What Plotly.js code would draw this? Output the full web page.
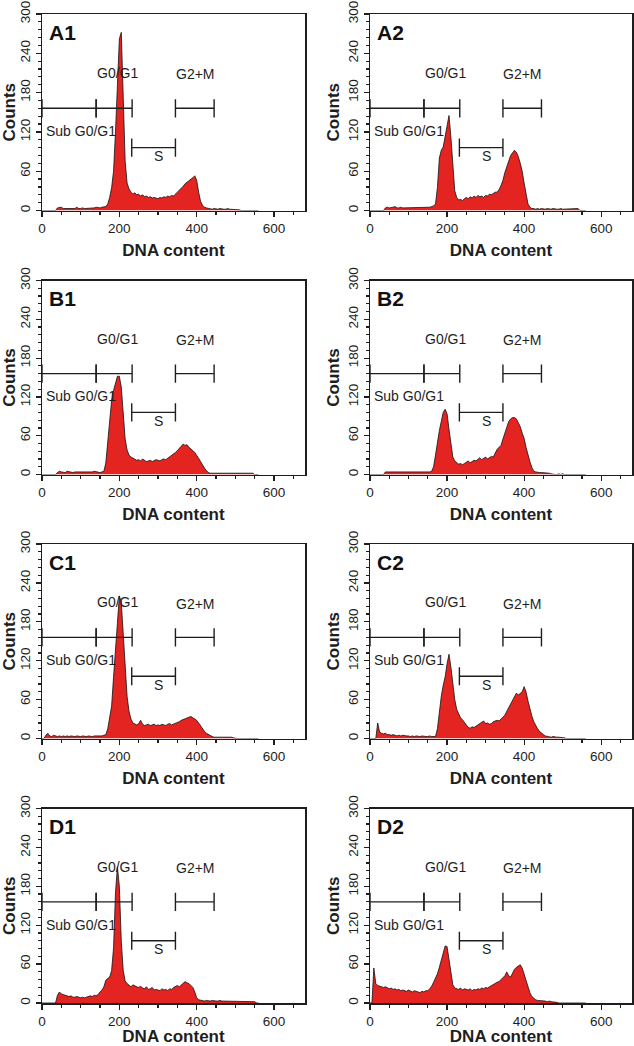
<!DOCTYPE html>
<html>
<head>
<meta charset="utf-8">
<script src="https://cdn.plot.ly/plotly-3.0.1.min.js"></script>
<style>html,body{margin:0;padding:0;background:#fff;}#chart{width:634px;height:1046px;}</style>
</head>
<body>
<div id="chart"></div>
<script>
// DNA content channels (histogram bins, width 5)
const BIN_WIDTH = 5;
const BIN_COUNT = 113;
const DNA_CONTENT = Array.from({length: BIN_COUNT}, (_, i) => i * BIN_WIDTH);

const PANELS = ['A1', 'A2', 'B1', 'B2', 'C1', 'C2', 'D1', 'D2'];

const A1 = [
0,0,0,0,0,0,0,0,4,5,
5,3,3,4,3,3,4,3,5,3,
3,4,3,3,4,4,3,4,5,4,
4,5,5,6,10,20,35,60,120,200,
262,272,170,75,42,33,28,25,27,24,
25,22,24,21,22,20,21,19,20,19,
18,20,19,21,20,22,21,23,22,25,
28,31,33,37,41,43,46,48,50,53,
46,28,14,8,5,4,3,3,2,3,
2,2,3,2,2,2,3,2,2,2,
2,2,1,0,0,0,0,0,0,0,
0,0,0];

const A2 = [
0,0,0,0,0,0,0,0,4,5,
4,4,5,6,4,4,5,4,4,5,
4,5,4,4,5,4,5,4,5,5,
5,5,6,7,10,35,80,92,97,112,
132,145,112,70,30,20,16,17,15,18,
20,18,21,19,22,20,23,21,22,20,
23,22,25,24,26,28,28,32,38,46,
58,66,76,84,88,92,89,82,72,60,
42,25,10,5,3,3,2,3,2,3,
2,2,3,2,2,3,2,2,2,3,
2,2,3,2,2,3,3,2,3,0,
0,0,0];

const B1 = [
0,0,0,0,0,0,0,0,3,5,
4,4,3,5,4,4,3,4,4,3,
3,4,3,4,4,3,4,5,4,4,
3,4,5,18,55,92,115,130,142,152,
152,135,95,55,38,30,27,25,24,22,
23,21,24,22,20,21,22,20,21,23,
22,21,23,24,23,25,27,29,31,34,
37,40,43,47,45,46,42,40,37,34,
30,25,20,14,10,6,3,2,2,2,
2,2,2,3,2,2,2,2,2,3,
2,2,2,2,2,2,2,2,2,2,
0,0,0];

const B2 = [
0,0,0,0,0,0,0,0,4,4,
4,4,3,4,4,3,3,4,4,3,
4,3,4,4,3,4,4,4,3,4,
4,4,5,12,30,50,68,82,96,101,
94,70,45,27,21,18,16,17,15,17,
19,21,18,20,22,21,24,26,23,25,
27,24,26,28,27,33,39,42,45,55,
65,75,82,86,88,88,86,80,74,64,
56,42,30,20,11,5,4,3,3,3,
3,3,2,2,1,0,0,0,1,0,
1,0,0,0,0,0,0,0,0,0,
0,0,0];

const C1 = [
0,0,5,8,4,3,5,4,3,4,
3,4,3,4,3,4,3,3,4,3,
3,4,3,3,4,3,3,4,4,3,
4,4,5,6,15,30,50,95,135,180,
220,210,165,105,65,42,30,24,22,21,
23,28,22,20,21,22,20,21,22,20,
21,20,22,21,20,22,23,21,22,24,
25,26,28,29,31,32,33,34,32,30,
28,24,19,15,11,8,6,4,3,2,
2,2,3,2,3,2,2,2,2,1,
0,0,0,0,0,0,0,0,0,0,
0,0,0];

const C2 = [
0,0,0,0,24,10,8,7,8,6,
6,5,6,5,4,5,4,5,4,4,
4,3,4,3,4,3,3,4,3,3,
3,4,3,3,3,15,42,65,82,95,
115,130,110,85,60,45,37,32,29,25,
20,17,16,18,17,19,20,22,24,27,
23,24,22,23,26,27,28,27,30,32,
36,42,48,54,58,65,70,67,70,72,
80,72,58,45,35,26,20,15,11,8,
6,4,3,3,2,3,2,2,2,2,
2,1,0,0,0,0,0,0,0,0,
0,0,0];

const D1 = [
0,0,0,0,0,0,0,0,12,17,
14,13,12,10,10,11,9,9,10,9,
8,9,8,9,10,11,10,12,11,13,
17,20,25,35,38,40,50,85,170,210,
180,95,50,34,30,27,25,28,26,25,
24,26,23,22,25,21,22,24,20,21,
20,19,22,20,21,19,22,21,24,26,
27,25,28,30,33,31,30,27,24,17,
8,5,4,4,3,4,3,3,4,3,
3,3,4,3,3,2,3,3,2,3,
3,2,3,2,3,2,2,3,2,2,
2,0,0];

const D2 = [
0,0,54,30,27,26,25,24,25,23,
22,23,21,22,20,21,19,20,19,18,
20,18,17,19,18,17,16,18,17,19,
19,22,26,32,38,45,55,65,78,88,
87,65,42,28,23,22,21,23,20,22,
21,20,22,19,21,20,22,21,23,22,
24,23,25,27,28,30,32,33,36,39,
42,48,42,40,46,52,55,57,59,54,
44,34,24,16,10,7,5,4,4,3,
3,3,2,3,2,2,2,1,0,0,
0,0,0,0,0,0,0,0,0,0,
0,0,0];

const COUNTS = [A1, A2, B1, B2, C1, C2, D1, D2];

// Gate markers (DNA content ranges) and their count levels
const GATE_SUB = [0, 140];
const GATE_G1 = [140, 233];
const GATE_S = [232, 345];
const GATE_G2 = [345, 445];
const GATE_LEVEL_TOP = 156;
const GATE_LEVEL_S = 96;

const X_TICKS = [0, 200, 400, 600];
const Y_TICKS = [0, 60, 120, 180, 240, 300];

const FONT = 'Liberation Sans, Arial, Helvetica, sans-serif';
const INK = '#1e1e1e';
const FILL = '#e32421';

const W = 634, H = 1046;
const COL_X = [[42, 305], [370, 632]];
const ROW_Y = [[14, 210.5], [280.5, 474.5], [544, 738.5], [808.5, 1003]];

const data = [];
const layout = {
  width: W, height: H,
  margin: {l: 0, r: 0, t: 0, b: 0},
  paper_bgcolor: '#fff', plot_bgcolor: '#fff',
  showlegend: false,
  font: {family: FONT, color: INK},
  annotations: [], shapes: []
};

PANELS.forEach((name, i) => {
  const col = i % 2, row = Math.floor(i / 2);
  const sfx = i === 0 ? '' : String(i + 1);
  const xa = 'x' + sfx, ya = 'y' + sfx;
  data.push({
    type: 'scatter', mode: 'lines',
    x: DNA_CONTENT, y: COUNTS[i],
    xaxis: xa, yaxis: ya,
    fill: 'tozeroy', fillcolor: FILL,
    line: {color: '#111', width: 0.8, shape: 'linear'},
    hoverinfo: 'skip'
  });
  const axBase = {
    showline: true, mirror: true, linecolor: INK, linewidth: 1.5,
    ticks: 'outside', ticklen: 5, tickwidth: 1.2, tickcolor: INK,
    showgrid: false, zeroline: false,
    tickfont: {size: 13.5, family: FONT, color: INK}
  };
  layout['xaxis' + sfx] = Object.assign({}, axBase, {
    domain: [COL_X[col][0] / W, COL_X[col][1] / W],
    anchor: ya, range: [0, 680], tickvals: X_TICKS,
    minor: {dtick: 50, ticks: 'outside', ticklen: 3, tickcolor: INK, showgrid: false},
    title: {text: '<b>DNA content</b>', font: {size: 17, family: FONT, color: INK}, standoff: 9}
  });
  layout['yaxis' + sfx] = Object.assign({}, axBase, {
    domain: [1 - ROW_Y[row][1] / H, 1 - ROW_Y[row][0] / H],
    anchor: xa, range: [0, 300], tickvals: Y_TICKS, tickangle: -90,
    minor: {dtick: 12, ticks: 'outside', ticklen: 3, tickcolor: INK, showgrid: false},
    title: {text: '<b>Counts</b>', font: {size: 17, family: FONT, color: INK}, standoff: 2}
  });

  const ann = (text, x, y, opts) => layout.annotations.push(Object.assign({
    text, x, y, xref: xa, yref: ya, showarrow: false,
    font: {size: 14, family: FONT, color: INK}, xanchor: 'center', yanchor: 'middle'
  }, opts || {}));
  ann('<b>' + name + '</b>', 13, 272, {xanchor: 'left', font: {size: 21, family: FONT, color: '#111'}});
  ann('G0/G1', 196, 210);
  ann('G2+M', 396, 208);
  ann('Sub G0/G1', 4, 121, {xanchor: 'left'});
  ann('S', 302, 83);

  const seg = (x0, y0, x1, y1) => layout.shapes.push({
    type: 'line', xref: xa, yref: ya, x0, y0, x1, y1,
    line: {color: INK, width: 1.4}
  });
  const bracket = (range, level) => {
    seg(range[0], level, range[1], level);
    seg(range[0], level - 14, range[0], level + 14);
    seg(range[1], level - 14, range[1], level + 14);
  };
  bracket(GATE_SUB, GATE_LEVEL_TOP);
  bracket(GATE_G1, GATE_LEVEL_TOP);
  bracket(GATE_S, GATE_LEVEL_S);
  bracket(GATE_G2, GATE_LEVEL_TOP);
});

Plotly.newPlot('chart', data, layout, {staticPlot: true, displayModeBar: false});
</script>
</body>
</html>
